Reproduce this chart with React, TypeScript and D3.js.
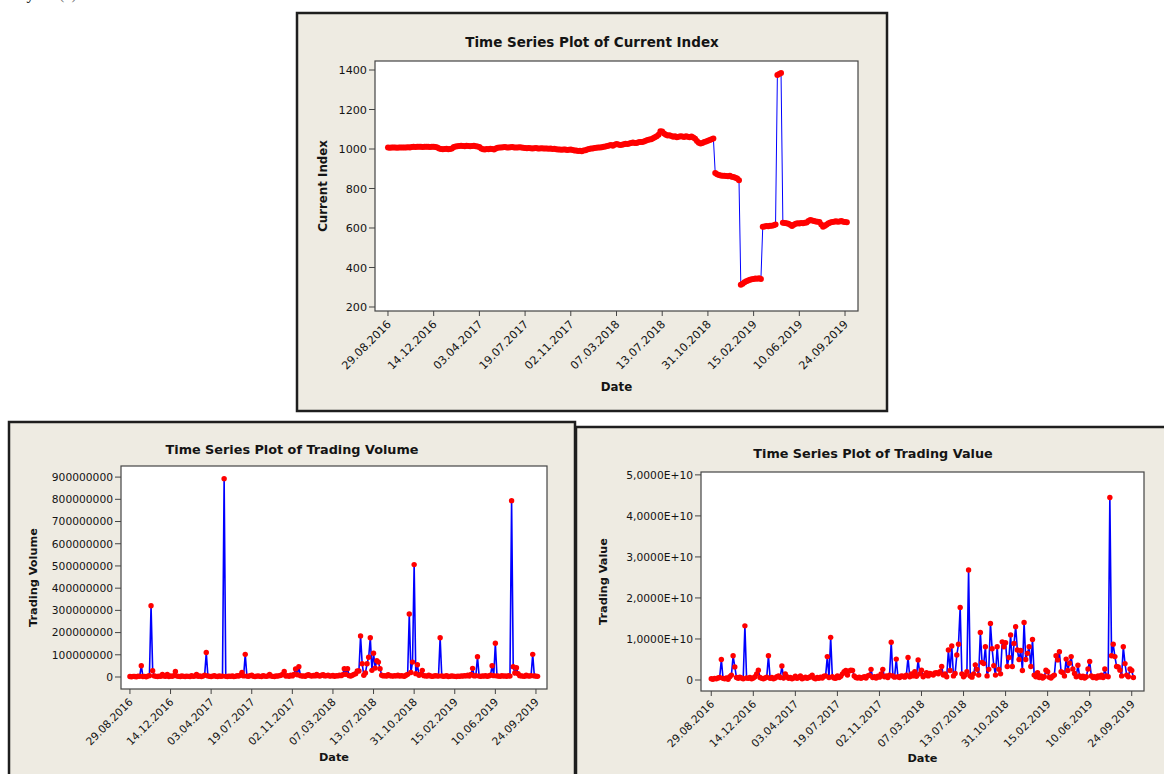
import * as React from "react";
import * as d3 from "d3";

// date labels under the x axis, one every 25 plotted observations
const dateTicks = [
  "29.08.2016", "14.12.2016", "03.04.2017", "19.07.2017", "02.11.2017", "07.03.2018",
  "13.07.2018", "31.10.2018", "15.02.2019", "10.06.2019", "24.09.2019",
];
const tickStep = 25;

// Current Index
const currentIndex = [
  1007, 1006, 1007, 1008, 1007, 1006, 1007, 1008, 1008, 1007,
  1008, 1009, 1008, 1010, 1011, 1010, 1011, 1012, 1011, 1010,
  1011, 1012, 1011, 1010, 1011, 1012, 1010, 1008,
  1002, 1000, 999, 1000, 1001, 999, 1000, 1003,
  1010, 1013, 1014, 1015, 1016, 1015, 1014, 1016, 1015, 1014, 1015, 1016, 1014, 1013, 1010,
  1002, 999, 998, 1000, 999, 1001, 1000, 998, 1002,
  1006, 1008, 1007, 1009, 1010, 1008, 1007, 1009, 1010, 1008, 1007, 1008, 1009, 1007, 1006,
  1005, 1004, 1005, 1004, 1003, 1004, 1005, 1003, 1002, 1004, 1003, 1002, 1003, 1001, 1002, 1000, 1001, 999,
  998, 997, 996, 998, 997, 995, 996, 997, 995, 993, 992, 990, 991, 989, 992, 994,
  998, 1000, 1003, 1002, 1005, 1006, 1008, 1007, 1009, 1012,
  1013, 1015, 1018, 1020, 1017, 1022, 1025,
  1023, 1020, 1022, 1024, 1026, 1025, 1028, 1030, 1033, 1031, 1030, 1034, 1036, 1035, 1038,
  1042, 1045, 1048, 1050, 1055, 1060, 1065, 1072,
  1090, 1088,
  1078, 1072, 1068, 1070, 1066,
  1062, 1064, 1060, 1062, 1065, 1063, 1061, 1064, 1062, 1060, 1063, 1058, 1052,
  1040, 1032, 1028,
  1030, 1035, 1038,
  1042, 1046, 1050, 1053,
  878, 872, 868, 866, 864, 865, 863, 862, 864, 860, 858, 854, 850, 842,
  312, 318, 325, 330, 334, 338, 340, 342, 344, 343, 345, 342,
  606, 608, 610, 609, 611, 612, 614, 618,
  1375, 1380, 1385,
  627, 625, 624, 622, 616, 610, 616, 622, 624, 623, 625, 624, 626, 628, 635, 640, 638, 636,
  633, 632, 630, 618, 606, 612, 618, 624, 628, 630, 632, 634, 631, 633, 635, 632, 630, 629,
];

// Trading Volume, in millions of shares
const tradingVolumeM = [
  2, 1, 3, 2, 1, 4, 3, 51, 2, 3, 1, 4, 6, 321, 28, 5, 3, 2, 4, 3,
  12, 4, 3, 12, 2, 5, 3, 6, 25, 4, 3, 2, 5, 3, 2, 4, 3, 2, 6, 3,
  4, 12, 3, 5, 2, 4, 8, 110, 5, 3, 2, 4, 6, 3, 2, 5, 3, 4, 893, 3,
  2, 4, 3, 5, 2, 3, 6, 4, 8, 21, 5, 102, 4, 3, 6, 8, 3, 2, 4, 5,
  3, 2, 6, 4, 3, 5, 12, 4, 3, 2, 5, 4, 6, 8, 12, 25, 4, 6, 3, 8,
  5, 12, 36, 10, 46, 6, 4, 5, 3, 8, 10, 6, 4, 7, 5, 12, 6, 4, 8, 10,
  5, 6, 8, 4, 5, 7, 3, 6, 5, 8, 6, 10, 37, 12, 37, 6, 4, 8, 12, 15,
  27, 27, 185, 60, 8, 18, 60, 89, 177, 30, 107, 40, 73, 67, 37, 8, 5, 6, 4, 10,
  6, 5, 4, 6, 5, 8, 4, 6, 5, 3, 8, 12, 284, 20, 67, 506, 15, 55, 8, 12,
  30, 6, 5, 4, 8, 5, 3, 4, 6, 5, 4, 177, 5, 3, 4, 6, 2, 3, 5, 4,
  3, 2, 4, 3, 5, 4, 6, 5, 8, 4, 12, 39, 5, 6, 91, 4, 3, 5, 4, 6,
  3, 5, 8, 51, 6, 152, 5, 4, 3, 6, 4, 5, 3, 6, 4, 794, 46, 18, 42, 15,
  6, 5, 4, 3, 8, 5, 4, 6, 102, 5, 4, 3,
];

// Trading Value, in billions
const tradingValueB = [
  0.3, 0.2, 0.4, 0.3, 0.5, 0.6, 5.0, 0.4, 0.3, 0.5, 0.2, 0.8,
  1.2, 5.9, 3.2, 0.6, 0.4, 0.7, 0.5, 0.3, 13.2, 0.5, 0.4, 0.6,
  0.3, 0.5, 0.8, 1.5, 2.4, 0.6, 0.4, 0.3, 0.5, 0.7, 5.9, 0.4,
  0.6, 0.3, 0.5, 0.8, 1.0, 0.6, 3.4, 0.5, 1.5, 0.8, 0.4, 0.6,
  0.3, 0.5, 0.9, 0.4, 0.6, 1.0, 0.3, 0.5, 0.7, 0.4, 0.6, 0.8,
  1.2, 0.5, 0.3, 0.6, 0.4, 0.7, 0.5, 0.9, 1.0, 5.7, 0.6, 10.4,
  0.8, 0.5, 0.4, 1.0, 0.6, 0.9, 1.5, 2.0, 2.3, 1.2, 2.2, 2.4,
  2.3, 1.0, 0.6, 0.5, 0.7, 0.4, 0.6, 0.8, 0.5, 1.0, 1.2, 2.6,
  0.6, 0.8, 0.5, 0.9, 0.7, 1.5, 2.6, 0.8, 1.0, 0.6, 1.2, 9.2,
  1.0, 0.7, 5.1, 0.8, 0.6, 1.0, 0.9, 0.7, 1.2, 5.5, 0.8, 1.5,
  1.0, 2.0, 0.9, 4.9, 1.5, 2.4, 0.8, 1.2, 1.8, 1.0, 1.6, 1.4,
  1.2, 1.7, 1.8, 1.5, 2.0, 3.3, 1.2, 1.5, 0.8, 7.3, 2.3, 8.3,
  1.0, 1.6, 6.1, 8.7, 17.7, 1.5, 0.8, 1.2, 2.0, 26.8, 1.0, 0.7,
  1.5, 3.7, 2.6, 1.2, 11.6, 4.3, 4.0, 8.1, 1.0, 2.6, 13.8, 7.6,
  3.5, 1.2, 8.1, 2.6, 1.5, 9.3, 8.1, 9.1, 3.3, 5.5, 11.0, 3.3,
  8.9, 13.0, 7.3, 5.0, 7.2, 2.3, 14.0, 5.0, 6.5, 8.1, 3.3, 9.9,
  1.2, 0.8, 1.8, 0.6, 1.0, 0.5, 0.8, 2.4, 2.0, 0.7, 0.5, 0.9,
  1.2, 5.9, 4.9, 6.9, 2.0, 1.8, 1.0, 5.1, 2.3, 4.1, 5.7, 2.7,
  1.6, 0.8, 3.6, 1.0, 0.6, 0.9, 0.5, 0.8, 2.7, 4.5, 1.0, 0.6,
  0.8, 0.5, 1.0, 0.7, 1.2, 0.6, 2.7, 1.0, 0.8, 44.5, 5.9, 8.7,
  5.7, 3.3, 3.2, 2.4, 1.0, 8.1, 4.0, 1.2, 0.8, 2.7, 2.3, 0.6,
];

const indexTicks = [200, 400, 600, 800, 1000, 1200, 1400];
const volumeTicks = [0, 1e8, 2e8, 3e8, 4e8, 5e8, 6e8, 7e8, 8e8, 9e8];
const valueTicks = [0, 1e10, 2e10, 3e10, 4e10, 5e10];

const FONT = "'DejaVu Sans', Verdana, sans-serif";
const INK = "#141414";

const fmtPlain = (v: number) => String(v);
const fmtSci = (v: number) =>
  v === 0 ? "0" : `${(v / 1e10).toFixed(4).replace(".", ",")}E+10`;

// one Minitab style "Time Series Plot" box
const SeriesPanel = (props: any) => {
  const { frame, plot, xDomain, yDomain, values, yTicks, yFormat, title, yLabel, fs, dotR, lineW } = props;
  const x = d3.scaleLinear().domain(xDomain).range([plot.left, plot.right]);
  const y = d3.scaleLinear().domain(yDomain).range([plot.bottom, plot.top]);
  const line = d3.line<number>().x((_, i) => x(i)).y((d) => y(d));
  const midX = (frame.x0 + frame.x1) / 2;
  const plotMidX = (plot.left + plot.right) / 2;
  const plotMidY = (plot.top + plot.bottom) / 2;

  return (
    <g fill={INK}>
      <rect x={frame.x0} y={frame.y0} width={frame.x1 - frame.x0} height={frame.y1 - frame.y0}
        fill="#eeebe2" stroke="#1e1e1e" strokeWidth={2.5} />
      <text x={frame.titleX ?? midX} y={frame.titleY} textAnchor="middle" fontWeight="bold" fontSize={fs.title}>
        {title}
      </text>
      <rect x={plot.left} y={plot.top} width={plot.right - plot.left} height={plot.bottom - plot.top}
        fill="#fff" stroke="#444" strokeWidth={1.2} />

      <path d={line(values) ?? ""} fill="none" stroke="#0000ff" strokeWidth={lineW} />
      {values.map((v: number, i: number) => (
        <circle key={i} cx={x(i)} cy={y(v)} r={dotR} fill="#ff0000" />
      ))}

      {yTicks.map((t: number) => (
        <g key={t}>
          <line x1={plot.left - 6} x2={plot.left} y1={y(t)} y2={y(t)} stroke="#444" />
          <text x={plot.left - 8} y={y(t)} dy="0.36em" textAnchor="end" fontSize={fs.tick}>
            {yFormat(t)}
          </text>
        </g>
      ))}

      {dateTicks.map((d, k) => {
        const tx = x(k * tickStep);
        return (
          <g key={d}>
            <line x1={tx} x2={tx} y1={plot.bottom} y2={plot.bottom + 5} stroke="#444" />
            <text transform={`translate(${tx + 1},${plot.bottom + 11}) rotate(-45)`} dy="0.36em"
              textAnchor="end" fontSize={fs.tick}>
              {d}
            </text>
          </g>
        );
      })}

      <text transform={`translate(${frame.yLabelX},${plotMidY}) rotate(-90)`} textAnchor="middle"
        dy="0.36em" fontWeight="bold" fontSize={fs.label}>
        {yLabel}
      </text>
      <text x={plotMidX} y={frame.dateY} textAnchor="middle" fontWeight="bold" fontSize={fs.label}>
        Date
      </text>
    </g>
  );
};

const App = () => {
  const volume = tradingVolumeM.map((v) => v * 1e6);
  const value = tradingValueB.map((v) => v * 1e9);
  const smallFs = { title: 12.8, tick: 10.7, label: 11.3 };

  return (
    <svg width={1164} height={774} fontFamily={FONT}
      style={{ position: "absolute", left: 0, top: 0, background: "#fff" }}>
      {/* tail of the caption line above, cut by the page edge */}
      <text x={22} y={-1} fontFamily="'Liberation Serif', serif" fontSize={16}>ly</text>
      <text x={59} y={-1} fontFamily="'Liberation Serif', serif" fontSize={16} fill="#777">(a)</text>

      <SeriesPanel
        frame={{ x0: 297, y0: 13, x1: 887, y1: 411, titleY: 47, yLabelX: 323, dateY: 391 }}
        plot={{ left: 375, top: 61, right: 858, bottom: 311 }}
        xDomain={[-7.1, 257.1]} yDomain={[179.7, 1445.6]}
        values={currentIndex} yTicks={indexTicks} yFormat={fmtPlain}
        title="Time Series Plot of Current Index" yLabel="Current Index"
        fs={{ title: 13.5, tick: 11.2, label: 11.8 }} dotR={3} lineW={1} />

      <SeriesPanel
        frame={{ x0: 9, y0: 422, x1: 575, y1: 790, titleY: 454, yLabelX: 33, dateY: 761 }}
        plot={{ left: 121, top: 466, right: 547, bottom: 689 }}
        xDomain={[-5.5, 256.8]} yDomain={[-54e6, 950e6]}
        values={volume} yTicks={volumeTicks} yFormat={fmtPlain}
        title="Time Series Plot of Trading Volume" yLabel="Trading Volume"
        fs={smallFs} dotR={2.7} lineW={1.6} />

      <SeriesPanel
        frame={{ x0: 576, y0: 427, x1: 1180, y1: 790, titleX: 873, titleY: 458, yLabelX: 603, dateY: 762 }}
        plot={{ left: 701, top: 472, right: 1144, bottom: 691 }}
        xDomain={[-6.1, 257.3]} yDomain={[-2.68e9, 50.7e9]}
        values={value} yTicks={valueTicks} yFormat={fmtSci}
        title="Time Series Plot of Trading Value" yLabel="Trading Value"
        fs={smallFs} dotR={2.7} lineW={1.6} />
    </svg>
  );
};

export default App;
